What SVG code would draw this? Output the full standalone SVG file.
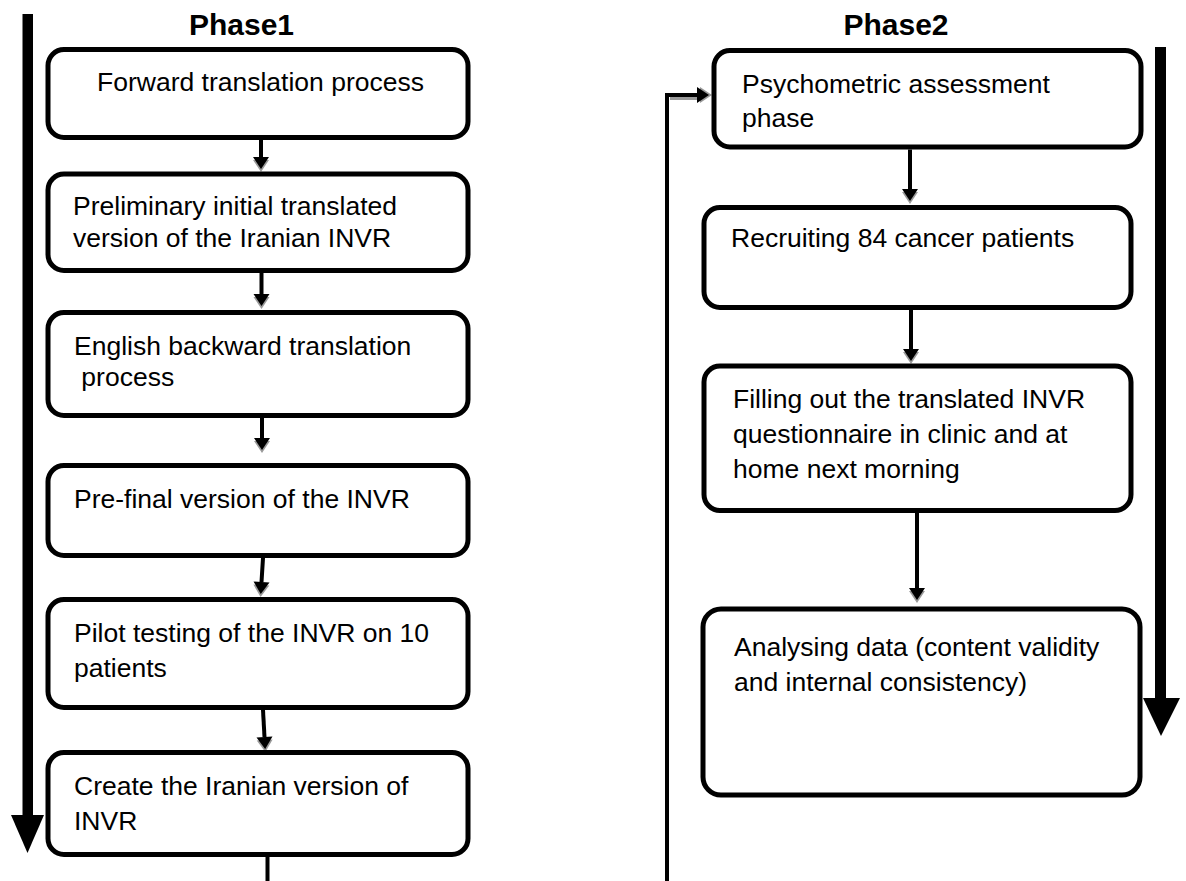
<svg xmlns="http://www.w3.org/2000/svg" width="1186" height="881" viewBox="0 0 1186 881">
  <style>
    .box { fill: #ffffff; stroke: #000000; stroke-width: 5; }
    .lbl { font-family: "Liberation Sans", Arial, sans-serif; font-size: 26.5px; fill: #000000; }
    .title { font-family: "Liberation Sans", Arial, sans-serif; font-size: 30px; font-weight: bold; fill: #000000; }
    .flow { fill: none; stroke: #000000; stroke-width: 4; }
    .shade { fill: none; stroke: #999999; stroke-width: 3; }
    .big { fill: #000000; }
  </style>
  <defs>
    <!-- arrowhead with a soft grey drop shadow toward the tip -->
    <marker id="head" markerUnits="userSpaceOnUse" viewBox="0 -10 20 20" markerWidth="20" markerHeight="20" refX="0" refY="0" orient="auto" overflow="visible">
      <path d="M3,-8 L15,0 L3,8 Z" fill="#9a9a9a"/>
      <path d="M0,-8 L12,0 L0,8 Z" fill="#000000"/>
    </marker>
  </defs>

  <rect width="1186" height="881" fill="#ffffff"/>

  <!-- phase titles -->
  <text class="title" x="241.5" y="35" text-anchor="middle">Phase1</text>
  <text class="title" x="896" y="35" text-anchor="middle">Phase2</text>

  <!-- long direction arrows -->
  <g id="phase1-direction">
    <rect class="big" x="22.5" y="14" width="10.5" height="802"/>
    <polygon class="big" points="11,815 44,815 27.5,853"/>
  </g>
  <g id="phase2-direction">
    <rect class="big" x="1155" y="47" width="11" height="652"/>
    <polygon class="big" points="1143,698 1180,698 1161,736"/>
  </g>

  <!-- connectors -->
  <g id="connectors">
    <line class="flow" x1="261" y1="140" x2="261" y2="157" marker-end="url(#head)"/>
    <line class="flow" x1="261.5" y1="273" x2="261.5" y2="294" marker-end="url(#head)"/>
    <line class="flow" x1="262" y1="418" x2="262" y2="438" marker-end="url(#head)"/>
    <line class="flow" x1="263" y1="558" x2="261.5" y2="582" marker-end="url(#head)"/>
    <line class="flow" x1="263" y1="710" x2="264.5" y2="737" marker-end="url(#head)"/>
    <line class="flow" x1="267.5" y1="857" x2="267.5" y2="881"/>

    <line class="flow" x1="910" y1="149.5" x2="910" y2="189" marker-end="url(#head)"/>
    <line class="flow" x1="911" y1="310" x2="911" y2="349" marker-end="url(#head)"/>
    <line class="flow" x1="917" y1="513" x2="917" y2="588" marker-end="url(#head)"/>

    <!-- return path from phase 1 into the psychometric phase -->
    <path class="shade" d="M670,98.5 H700"/>
    <path class="flow" d="M667,881 V95 H697" marker-end="url(#head)"/>
  </g>

  <!-- phase 1 steps -->
  <g id="forward-translation">
    <rect class="box" x="48" y="49.5" width="420" height="88" rx="16"/>
    <text class="lbl" x="97" y="91">Forward translation process</text>
  </g>
  <g id="preliminary-version">
    <rect class="box" x="48" y="174" width="420" height="96.5" rx="16"/>
    <text class="lbl" x="73" y="215">Preliminary initial translated</text>
    <text class="lbl" x="73" y="247">version of the Iranian INVR</text>
  </g>
  <g id="backward-translation">
    <rect class="box" x="48" y="312.5" width="420" height="103" rx="16"/>
    <text class="lbl" x="74" y="355">English backward translation</text>
    <text class="lbl" x="74" y="386" xml:space="preserve"> process</text>
  </g>
  <g id="pre-final-version">
    <rect class="box" x="48" y="465.5" width="420" height="90" rx="16"/>
    <text class="lbl" x="74" y="508">Pre-final version of the INVR</text>
  </g>
  <g id="pilot-testing">
    <rect class="box" x="48" y="599.5" width="420" height="108" rx="16"/>
    <text class="lbl" x="74" y="642">Pilot testing of the INVR on 10</text>
    <text class="lbl" x="74" y="677">patients</text>
  </g>
  <g id="iranian-version">
    <rect class="box" x="48" y="752.5" width="420" height="102" rx="16"/>
    <text class="lbl" x="74" y="795">Create the Iranian version of</text>
    <text class="lbl" x="74" y="830">INVR</text>
  </g>

  <!-- phase 2 steps -->
  <g id="psychometric-phase">
    <rect class="box" x="714" y="50.5" width="427" height="96.5" rx="16"/>
    <text class="lbl" x="742" y="93">Psychometric assessment</text>
    <text class="lbl" x="742" y="127">phase</text>
  </g>
  <g id="recruiting">
    <rect class="box" x="704" y="207.5" width="427" height="100" rx="16"/>
    <text class="lbl" x="731" y="247">Recruiting 84 cancer patients</text>
  </g>
  <g id="questionnaire">
    <rect class="box" x="704" y="366" width="427" height="144.5" rx="16"/>
    <text class="lbl" x="733" y="408">Filling out the translated INVR</text>
    <text class="lbl" x="733" y="443">questionnaire in clinic and at</text>
    <text class="lbl" x="733" y="478">home next morning</text>
  </g>
  <g id="analysis">
    <rect class="box" x="703" y="609" width="437" height="186" rx="18"/>
    <text class="lbl" x="734" y="656">Analysing data (content validity</text>
    <text class="lbl" x="734" y="691">and internal consistency)</text>
  </g>
</svg>
